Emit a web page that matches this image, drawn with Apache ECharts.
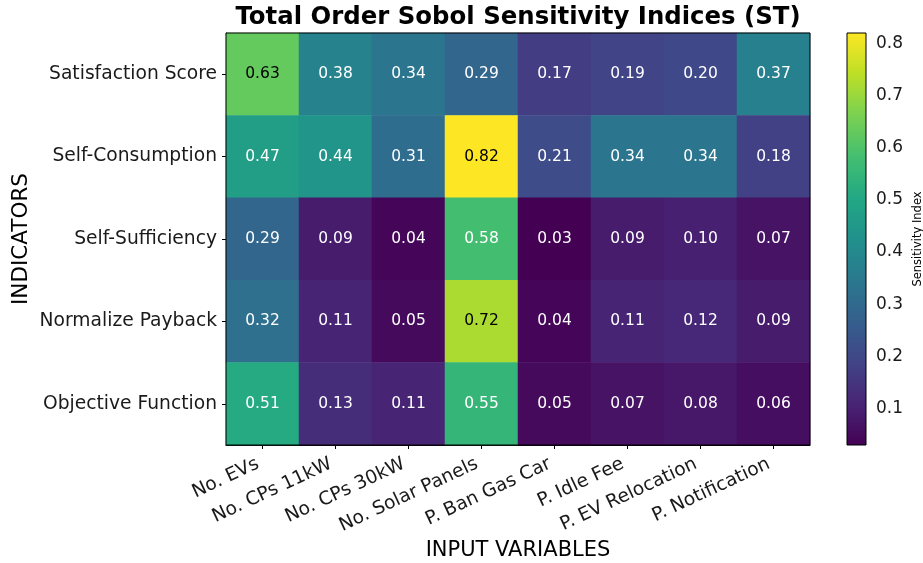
<!DOCTYPE html>
<html><head><meta charset="utf-8">
<script src="https://cdn.jsdelivr.net/npm/echarts@6/dist/echarts.min.js"></script>
<style>html,body{margin:0;padding:0;background:#fff}#c{width:923px;height:563px}</style>
</head><body><div id="c"></div>
<script>
const inputVars = ['No. EVs','No. CPs 11kW','No. CPs 30kW','No. Solar Panels','P. Ban Gas Car','P. Idle Fee','P. EV Relocation','P. Notification'];
const indicators = ['Satisfaction Score','Self-Consumption','Self-Sufficiency','Normalize Payback','Objective Function'];
const satisfactionScore = [0.63,0.38,0.34,0.29,0.17,0.19,0.20,0.37];
const selfConsumption   = [0.47,0.44,0.31,0.82,0.21,0.34,0.34,0.18];
const selfSufficiency   = [0.29,0.09,0.04,0.58,0.03,0.09,0.10,0.07];
const normalizePayback  = [0.32,0.11,0.05,0.72,0.04,0.11,0.12,0.09];
const objectiveFunction = [0.51,0.13,0.11,0.55,0.05,0.07,0.08,0.06];
const colorbarTicks = [0.1,0.2,0.3,0.4,0.5,0.6,0.7,0.8];
const vmin = 0.03, vmax = 0.82;

const viridis = ['#440154','#482475','#414487','#355f8d','#2a788e','#21918c','#22a884','#44bf70','#7ad151','#bddf26','#fde725'];
const rows = [satisfactionScore, selfConsumption, selfSufficiency, normalizePayback, objectiveFunction];
const data = [];
rows.forEach((r, yi) => r.forEach((v, xi) => {
  data.push({value:[xi, yi, v], label:{color: v > 0.6 ? '#000' : '#fff'}});
}));

const G = {left:226, right:810, top:33, bottom:445};
const CB = {left:847, width:19, top:33, bottom:445};
const font = 'DejaVu Sans';

const chart = echarts.init(document.getElementById('c'));
chart.setOption({
  animation:false,
  textStyle:{fontFamily:font},
  title:{text:'Total Order Sobol Sensitivity Indices (ST)', left:513, top:1, textAlign:'center',
    textStyle:{fontFamily:font, fontSize:24.4, fontWeight:'bold', color:'#000'}},
  grid:[
    {left:G.left, top:G.top, width:G.right-G.left, height:G.bottom-G.top, containLabel:false, outerBoundsMode:'none'},
    {left:CB.left, top:CB.top, width:CB.width, height:CB.bottom-CB.top, containLabel:false, outerBoundsMode:'none'}
  ],
  xAxis:[
    {type:'category', data:inputVars, gridIndex:0, position:'bottom',
     name:'INPUT VARIABLES', nameLocation:'middle', nameGap:95, nameMoveOverlap:false,
     nameTextStyle:{fontFamily:font, fontSize:21, color:'#000'},
     axisLine:{show:true, lineStyle:{color:'#000'}},
     axisTick:{show:true, alignWithLabel:true, length:4, lineStyle:{color:'#000'}},
     axisLabel:{rotate:25, fontSize:18.7, color:'#1a1a1a', margin:16, padding:[0,5,0,0], fontFamily:font},
     splitLine:{show:false}},
    {type:'value', gridIndex:1, show:false, min:0, max:1}
  ],
  yAxis:[
    {type:'category', data:indicators, gridIndex:0, inverse:true,
     name:'INDICATORS', nameLocation:'middle', nameGap:194, nameRotate:90, nameMoveOverlap:false,
     nameTextStyle:{fontFamily:font, fontSize:21.5, color:'#000'},
     axisLine:{show:true, lineStyle:{color:'#000'}},
     axisTick:{show:true, alignWithLabel:true, length:4, lineStyle:{color:'#000'}},
     axisLabel:{fontSize:18.7, color:'#1a1a1a', margin:9, fontFamily:font},
     splitLine:{show:false}},
    {type:'value', gridIndex:1, position:'right', min:vmin, max:vmax,
     name:'Sensitivity Index', nameLocation:'middle', nameGap:46, nameRotate:90, nameMoveOverlap:false,
     nameTextStyle:{fontFamily:font, fontSize:11.5, color:'#000'},
     axisLine:{show:false},
     axisTick:{show:true, length:5, lineStyle:{color:'#000'}, customValues:colorbarTicks},
     axisLabel:{fontSize:17, color:'#1a1a1a', margin:10, fontFamily:font, customValues:colorbarTicks,
       formatter:v=>v.toFixed(1)},
     splitLine:{show:false}}
  ],
  visualMap:{show:false, min:vmin, max:vmax, dimension:2, seriesIndex:0, inRange:{color:viridis}},
  series:[{
    type:'heatmap', xAxisIndex:0, yAxisIndex:0, data:data,
    label:{show:true, fontSize:15.5, fontFamily:font, formatter:p=>p.value[2].toFixed(2)},
    itemStyle:{borderWidth:0},
    emphasis:{disabled:true}
  }],
  graphic:[
    {type:'rect', shape:{x:CB.left, y:CB.top, width:CB.width, height:CB.bottom-CB.top},
     style:{fill:new echarts.graphic.LinearGradient(0,1,0,0, viridis.map((c,i)=>({offset:i/(viridis.length-1), color:c}))),
       stroke:'#000', lineWidth:1}, z:10},
    {type:'rect', shape:{x:G.left, y:G.top, width:G.right-G.left, height:G.bottom-G.top},
     style:{fill:'none', stroke:'#000', lineWidth:1}, z:10, silent:true}
  ]
});
</script></body></html>
